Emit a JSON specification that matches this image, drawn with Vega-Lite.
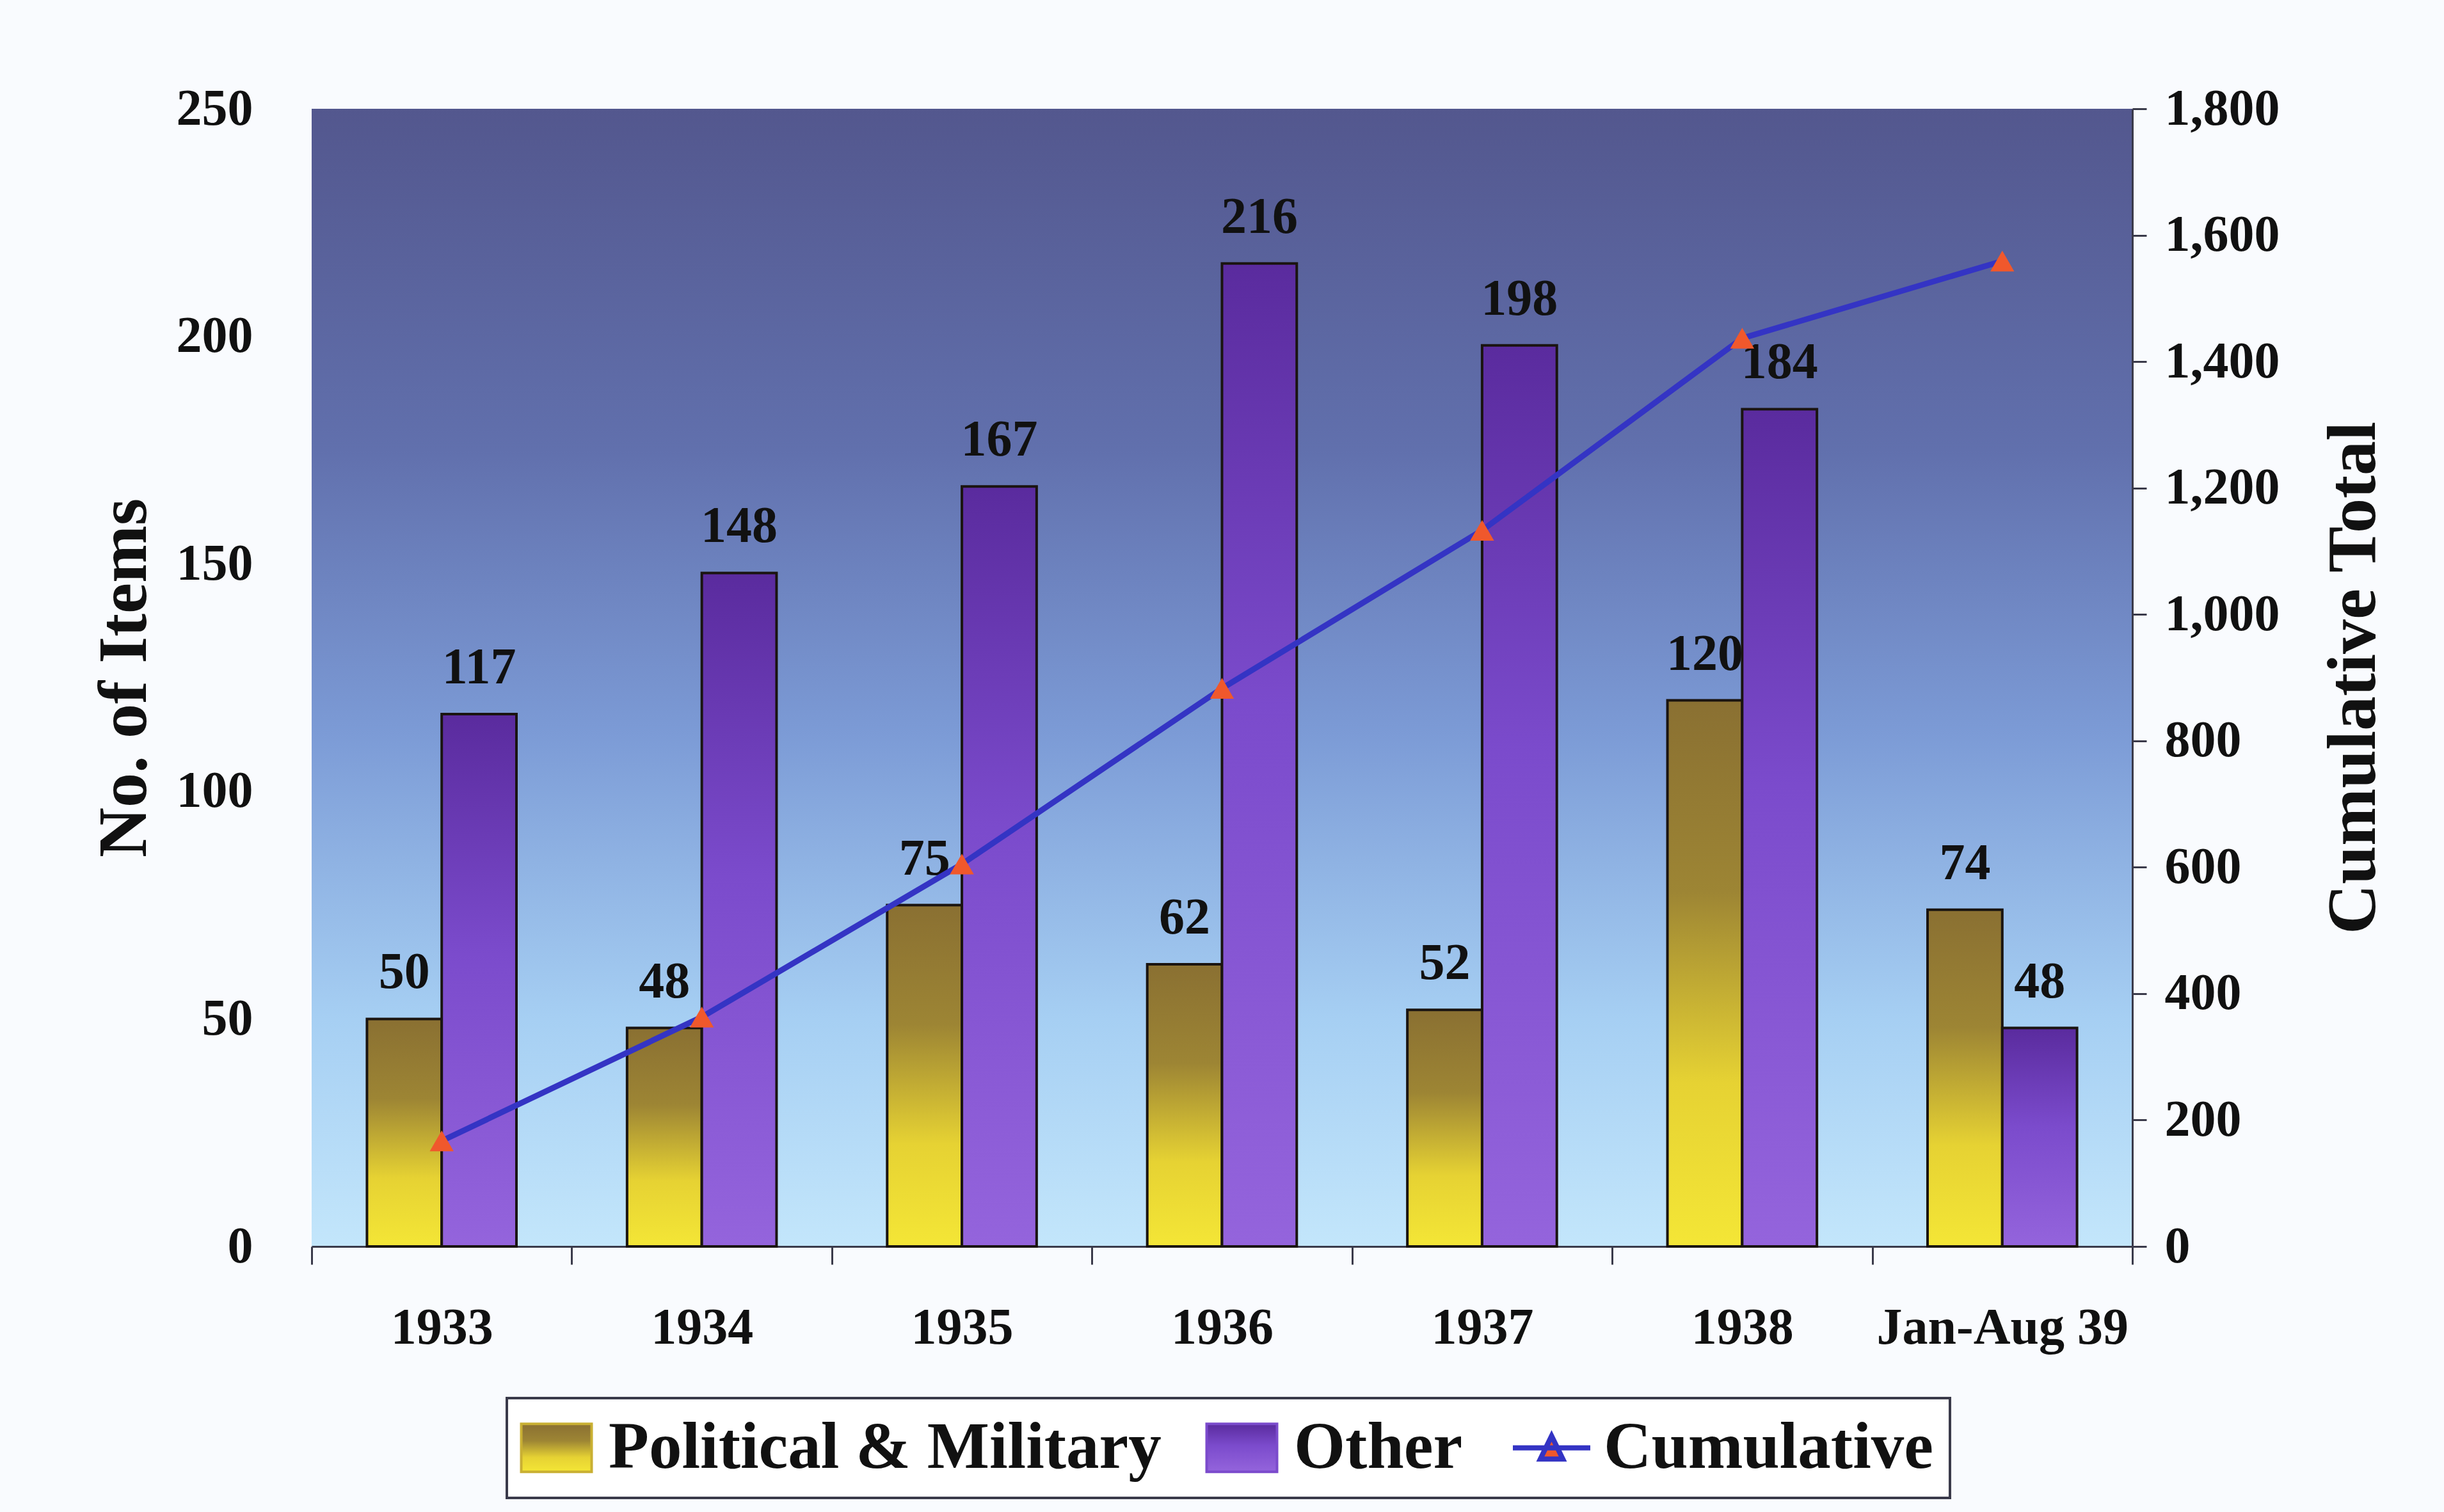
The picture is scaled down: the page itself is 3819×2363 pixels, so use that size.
{
  "$schema": "https://vega.github.io/schema/vega-lite/v6.json",
  "width": 2845,
  "height": 1778,
  "autosize": {"type": "none"},
  "padding": {"left": 487, "top": 170, "right": 487, "bottom": 415},
  "background": "#f9fbfe",
  "datasets": {
    "counts": [
      {"period": "1933", "series": "Political & Military", "items": 50},
      {"period": "1933", "series": "Other", "items": 117},
      {"period": "1934", "series": "Political & Military", "items": 48},
      {"period": "1934", "series": "Other", "items": 148},
      {"period": "1935", "series": "Political & Military", "items": 75},
      {"period": "1935", "series": "Other", "items": 167},
      {"period": "1936", "series": "Political & Military", "items": 62},
      {"period": "1936", "series": "Other", "items": 216},
      {"period": "1937", "series": "Political & Military", "items": 52},
      {"period": "1937", "series": "Other", "items": 198},
      {"period": "1938", "series": "Political & Military", "items": 120},
      {"period": "1938", "series": "Other", "items": 184},
      {"period": "Jan-Aug 39", "series": "Political & Military", "items": 74},
      {"period": "Jan-Aug 39", "series": "Other", "items": 48}
    ],
    "totals": [
      {"period": "1933", "series": "Cumulative", "total": 167},
      {"period": "1934", "series": "Cumulative", "total": 363},
      {"period": "1935", "series": "Cumulative", "total": 605},
      {"period": "1936", "series": "Cumulative", "total": 883},
      {"period": "1937", "series": "Cumulative", "total": 1133},
      {"period": "1938", "series": "Cumulative", "total": 1437},
      {"period": "Jan-Aug 39", "series": "Cumulative", "total": 1559}
    ]
  },
  "config": {
    "font": "Liberation Serif",
    "view": {
      "stroke": null,
      "fill": {
        "gradient": "linear",
        "x1": 0, "y1": 0, "x2": 0, "y2": 1,
        "stops": [
          {"offset": 0, "color": "#53578e"},
          {"offset": 0.3, "color": "#6170ad"},
          {"offset": 0.55, "color": "#7c9bd6"},
          {"offset": 0.8, "color": "#a6cff3"},
          {"offset": 1, "color": "#c3e6fb"}
        ]
      }
    },
    "axis": {
      "labelFont": "Liberation Serif",
      "labelFontWeight": "bold",
      "labelFontSize": 80,
      "labelColor": "#111111",
      "labelLimit": 1000,
      "titleFont": "Liberation Serif",
      "titleFontWeight": "bold",
      "titleFontSize": 108,
      "titleColor": "#111111",
      "grid": false
    }
  },
  "layer": [
    {
      "data": {"name": "counts"},
      "encoding": {
        "x": {
          "field": "period",
          "type": "nominal",
          "sort": ["1933", "1934", "1935", "1936", "1937", "1938", "Jan-Aug 39"],
          "scale": {"paddingInner": 0, "paddingOuter": 0},
          "axis": {
            "title": null,
            "labelAngle": 0,
            "domain": true,
            "domainColor": "#3a3a4a",
            "domainWidth": 3,
            "ticks": true,
            "tickBand": "extent",
            "tickColor": "#3a3a4a",
            "tickWidth": 3,
            "tickSize": 28,
            "labelPadding": 60
          }
        },
        "xOffset": {
          "field": "series",
          "type": "nominal",
          "scale": {"domain": ["Political & Military", "Other"], "paddingInner": 0, "paddingOuter": 0.74}
        },
        "y": {
          "field": "items",
          "type": "quantitative",
          "scale": {"domain": [0, 250], "nice": false},
          "axis": {
            "orient": "left",
            "values": [0, 50, 100, 150, 200, 250],
            "domain": false,
            "ticks": false,
            "tickSize": 0,
            "labelPadding": 92,
            "title": "No. of Items",
            "titleAngle": 270,
            "titleX": -292,
            "titleY": 889,
            "titleAlign": "center",
            "titleBaseline": "middle"
          }
        }
      },
      "layer": [
        {
          "transform": [{"filter": "datum.series === 'Political & Military'"}],
          "mark": {
            "type": "bar",
            "stroke": "#1a1410",
            "strokeWidth": 4,
            "color": {
              "gradient": "linear",
              "x1": 0, "y1": 0, "x2": 0, "y2": 1,
              "stops": [
                {"offset": 0, "color": "#8a7032"},
                {"offset": 0.35, "color": "#9d8534"},
                {"offset": 0.7, "color": "#e6d233"},
                {"offset": 1, "color": "#f4e636"}
              ]
            }
          }
        },
        {
          "transform": [{"filter": "datum.series === 'Other'"}],
          "mark": {
            "type": "bar",
            "stroke": "#1a1410",
            "strokeWidth": 4,
            "color": {
              "gradient": "linear",
              "x1": 0, "y1": 0, "x2": 0, "y2": 1,
              "stops": [
                {"offset": 0, "color": "#5a2b9e"},
                {"offset": 0.45, "color": "#7b4bcc"},
                {"offset": 1, "color": "#9464dc"}
              ]
            }
          }
        },
        {
          "mark": {
            "type": "text",
            "font": "Liberation Serif",
            "fontWeight": "bold",
            "fontSize": 80,
            "baseline": "alphabetic",
            "dy": -48,
            "color": "#111111"
          },
          "encoding": {
            "text": {"field": "items", "type": "quantitative"}
          }
        }
      ]
    },
    {
      "data": {"name": "totals"},
      "encoding": {
        "x": {
          "field": "period",
          "type": "nominal",
          "sort": ["1933", "1934", "1935", "1936", "1937", "1938", "Jan-Aug 39"],
          "scale": {"paddingInner": 0, "paddingOuter": 0},
          "axis": {
            "title": null,
            "labelAngle": 0,
            "domain": true,
            "domainColor": "#3a3a4a",
            "domainWidth": 3,
            "ticks": true,
            "tickBand": "extent",
            "tickColor": "#3a3a4a",
            "tickWidth": 3,
            "tickSize": 28,
            "labelPadding": 60
          }
        },
        "y": {
          "field": "total",
          "type": "quantitative",
          "scale": {"domain": [0, 1800], "nice": false},
          "axis": {
            "orient": "right",
            "values": [0, 200, 400, 600, 800, 1000, 1200, 1400, 1600, 1800],
            "format": ",d",
            "domain": true,
            "domainColor": "#3a3a4a",
            "domainWidth": 3,
            "ticks": true,
            "tickColor": "#3a3a4a",
            "tickWidth": 3,
            "tickSize": 22,
            "labelPadding": 28,
            "title": "Cumulative Total",
            "titleAngle": 270,
            "titleX": 346,
            "titleY": 889,
            "titleAlign": "center",
            "titleBaseline": "middle"
          }
        }
      },
      "layer": [
        {
          "mark": {"type": "line", "strokeWidth": 9},
          "encoding": {
            "color": {
              "field": "series",
              "type": "nominal",
              "scale": {
                "domain": ["Political & Military", "Other", "Cumulative"],
                "range": ["#c9b033", "#7b4bcc", "#3434c4"]
              },
              "legend": {
                "title": null,
                "orient": "none",
                "legendX": 305,
                "legendY": 2015,
                "direction": "horizontal",
                "padding": 26,
                "fillColor": "#ffffff",
                "strokeColor": "#3a3a4a",
                "labelFont": "Liberation Serif",
                "labelFontWeight": "bold",
                "labelFontSize": 103,
                "labelColor": "#111111",
                "labelOffset": 30,
                "columnPadding": 62,
                "symbolSize": 12100,
                "labelLimit": 2000,
                "encode": {
                  "legend": {
                    "update": {
                      "strokeWidth": {"value": 4}
                    }
                  },
                  "symbols": {
                    "update": {
                      "shape": {"signal": "datum.value === 'Cumulative' ? 'M-1.1,0H1.1M-0.32,0.32L0,-0.34L0.32,0.32Z' : 'M-1,-0.68H1V0.68H-1Z'"},
                      "fill": {"signal": "datum.value === 'Cumulative' ? '#f0582c' : datum.value === 'Other' ? {gradient: 'linear', x1: 0, y1: 0, x2: 0, y2: 1, stops: [{offset: 0, color: '#5a2b9e'}, {offset: 0.45, color: '#7b4bcc'}, {offset: 1, color: '#9464dc'}]} : {gradient: 'linear', x1: 0, y1: 0, x2: 0, y2: 1, stops: [{offset: 0, color: '#8a7032'}, {offset: 0.35, color: '#9d8534'}, {offset: 0.7, color: '#e6d233'}, {offset: 1, color: '#f4e636'}]}"},
                      "stroke": {"signal": "datum.value === 'Cumulative' ? '#3434c4' : '#1a1410'"},
                      "strokeWidth": {"signal": "datum.value === 'Cumulative' ? 8 : 4"},
                      "opacity": {"value": 1}
                    }
                  }
                }
              }
            }
          }
        },
        {
          "mark": {"type": "point", "shape": "triangle-up", "filled": true, "size": 1400, "color": "#f0582c", "opacity": 1},
          "encoding": {}
        }
      ]
    }
  ],
  "resolve": {"scale": {"y": "independent"}}
}
